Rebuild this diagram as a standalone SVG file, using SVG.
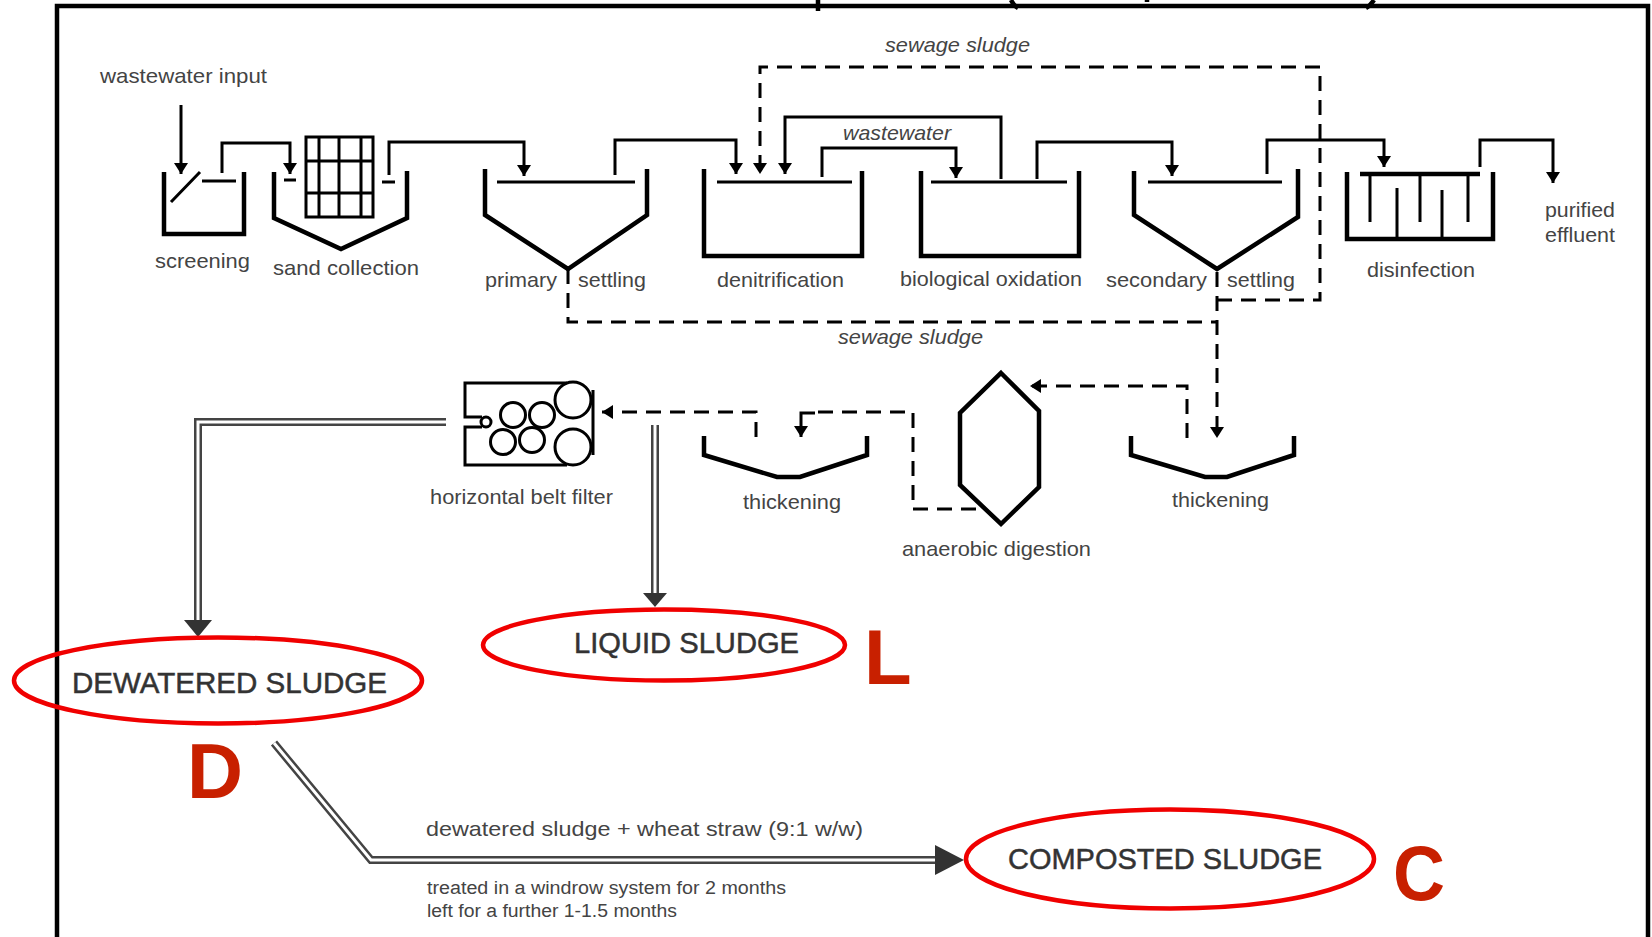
<svg xmlns="http://www.w3.org/2000/svg" width="1652" height="937" viewBox="0 0 1652 937">
<style>
text{font-family:"Liberation Sans",Arial,sans-serif;fill:#444;font-size:21px}
.it{font-style:italic}
.cap{font-size:29px;fill:#333;stroke:#333;stroke-width:.5}
.sm{font-size:18px}
.big{font-size:78px;font-weight:bold;fill:#c82000}
.tank{fill:none;stroke:#000;stroke-width:4.5;stroke-linejoin:miter}
.thin{fill:none;stroke:#000;stroke-width:3}
.c{fill:none;stroke:#000;stroke-width:3}
.d{fill:none;stroke:#000;stroke-width:3;stroke-dasharray:15 9}
.do{fill:none;stroke:#444;stroke-width:8}
.di{fill:none;stroke:#fff;stroke-width:3}
.el{fill:none;stroke:#f00000;stroke-width:4.5}
.ah{fill:#333}
</style>
<defs>
<marker id="a" markerUnits="userSpaceOnUse" markerWidth="14" markerHeight="14" refX="11" refY="7" orient="auto"><path d="M0 0L11 7L0 14Z" fill="#000"/></marker>
</defs>
<g id="frame">
<path d="M57 937V6H1648V937" fill="none" stroke="#000" stroke-width="4.5"/>
<path d="M818 0V11M1011 0Q1014 6 1018 8M1147 0V2M1374 0Q1370 6 1366 8" fill="none" stroke="#000" stroke-width="4.5"/>
</g>
<g id="connectors">
<path class="c" marker-end="url(#a)" d="M181 105V174"/>
<path class="c" marker-end="url(#a)" d="M222 173V143H290V174"/>
<path class="c" marker-end="url(#a)" d="M389 175V142H524V176"/>
<path class="c" marker-end="url(#a)" d="M615 175V140H736V174"/>
<path class="c" marker-end="url(#a)" d="M1001 179V117H785V174"/>
<path class="c" marker-end="url(#a)" d="M822 177V148H956V178"/>
<path class="c" marker-end="url(#a)" d="M1037 179V142H1172V176"/>
<path class="c" marker-end="url(#a)" d="M1267 174V140H1384V167"/>
<path class="c" marker-end="url(#a)" d="M1480 167V140H1553V183"/>
<path class="d" marker-end="url(#a)" d="M1217 300H1320V67H760V174"/>
<path class="d" d="M568 269V322H1217"/>
<path class="d" marker-end="url(#a)" d="M1217 272V438"/>
<path class="d" marker-end="url(#a)" d="M1187 438V386H1030"/>
<path class="d" d="M976 509H913V412H815"/>
<path class="c" marker-end="url(#a)" d="M815 413H801V437"/>
<path class="d" marker-end="url(#a)" d="M756 437V412H602"/>
<path class="do" d="M446 422H198V620"/><path class="di" d="M446 422H198V620"/>
<path class="ah" d="M184 620H212L198 637Z"/>
<path class="do" d="M655 425V593"/><path class="di" d="M655 425V593"/>
<path class="ah" d="M643 593H667L655 607Z"/>
<path class="do" d="M274 743L371 860H936"/><path class="di" d="M274 743L371 860H936"/>
<path class="ah" d="M935 845L964 860L935 875Z"/>
</g>
<g id="input"><text x="100" y="83" textLength="167" lengthAdjust="spacingAndGlyphs">wastewater input</text></g>
<g id="screening">
<path class="tank" d="M164 172V234H244V172"/>
<path class="thin" d="M200 172L171 202M202 181H236"/>
<text x="155" y="268" textLength="95" lengthAdjust="spacingAndGlyphs">screening</text>
</g>
<g id="sand-collection">
<path class="tank" d="M274 172V218L341 249L407 218V171"/>
<path class="thin" d="M284 180H296M382 182H395"/>
<path class="thin" d="M306 137H373V217H306ZM319 137V217M339 137V217M361 137V217M306 161H373M306 193H373"/>
<text x="273" y="275" textLength="146" lengthAdjust="spacingAndGlyphs">sand collection</text>
</g>
<g id="primary-settling">
<path class="tank" d="M485 169V215L568 269L647 215V169"/>
<path class="thin" d="M497 182H635"/>
<text x="485" y="287" textLength="72" lengthAdjust="spacingAndGlyphs">primary</text>
<text x="578" y="287" textLength="68" lengthAdjust="spacingAndGlyphs">settling</text>
</g>
<g id="denitrification">
<path class="tank" d="M704 169V256H862V171"/>
<path class="thin" d="M717 182H852"/>
<text x="717" y="287" textLength="127" lengthAdjust="spacingAndGlyphs">denitrification</text>
</g>
<g id="biological-oxidation">
<path class="tank" d="M921 171V256H1079V171"/>
<path class="thin" d="M931 182H1067"/>
<text x="900" y="286" textLength="182" lengthAdjust="spacingAndGlyphs">biological oxidation</text>
</g>
<g id="secondary-settling">
<path class="tank" d="M1134 171V215L1217 269L1298 217V169"/>
<path class="thin" d="M1148 182H1282"/>
<text x="1106" y="287" textLength="101" lengthAdjust="spacingAndGlyphs">secondary</text>
<text x="1227" y="287" textLength="68" lengthAdjust="spacingAndGlyphs">settling</text>
</g>
<g id="disinfection">
<path class="tank" d="M1347 172V239H1493V172"/>
<path class="tank" d="M1360 174H1480"/>
<path class="thin" d="M1370 174V222M1420 174V222M1468 174V222M1397 188V239M1442 190V239"/>
<text x="1367" y="277" textLength="108" lengthAdjust="spacingAndGlyphs">disinfection</text>
</g>
<g id="effluent">
<text x="1545" y="217" textLength="70" lengthAdjust="spacingAndGlyphs">purified</text>
<text x="1545" y="242" textLength="70" lengthAdjust="spacingAndGlyphs">effluent</text>
</g>
<g id="labels">
<text class="it" x="885" y="52" textLength="145" lengthAdjust="spacingAndGlyphs">sewage sludge</text>
<text class="it" x="843" y="140" textLength="108" lengthAdjust="spacingAndGlyphs">wastewater</text>
<text class="it" x="838" y="344" textLength="145" lengthAdjust="spacingAndGlyphs">sewage sludge</text>
<text x="426" y="836" textLength="437" lengthAdjust="spacingAndGlyphs">dewatered sludge + wheat straw (9:1 w/w)</text>
<text class="sm" x="427" y="894" textLength="359" lengthAdjust="spacingAndGlyphs">treated in a windrow system for 2 months</text>
<text class="sm" x="427" y="917" textLength="250" lengthAdjust="spacingAndGlyphs">left for a further 1-1.5 months</text>
</g>
<g id="belt-filter">
<path class="thin" d="M567 383H465V417H482M482 427H465V465H567M593 390V455"/>
<circle class="thin" cx="486" cy="422" r="5"/>
<circle class="thin" cx="513" cy="415" r="12.5"/>
<circle class="thin" cx="542" cy="415" r="12.5"/>
<circle class="thin" cx="503" cy="442" r="12.5"/>
<circle class="thin" cx="532" cy="440" r="12.5"/>
<circle class="thin" cx="573" cy="400" r="18"/>
<circle class="thin" cx="573" cy="447" r="18"/>
<text x="430" y="504" textLength="183" lengthAdjust="spacingAndGlyphs">horizontal belt filter</text>
</g>
<g id="thickening-1">
<path class="tank" d="M704 436V455L777 477H800L867 455V436"/>
<text x="743" y="509" textLength="98" lengthAdjust="spacingAndGlyphs">thickening</text>
</g>
<g id="anaerobic-digestion">
<path class="tank" d="M1001 373L1039 411V487L1001 524L960 485V413Z"/>
<text x="902" y="556" textLength="189" lengthAdjust="spacingAndGlyphs">anaerobic digestion</text>
</g>
<g id="thickening-2">
<path class="tank" d="M1131 436V455L1205 477H1227L1294 455V436"/>
<text x="1172" y="507" textLength="97" lengthAdjust="spacingAndGlyphs">thickening</text>
</g>
<g id="dewatered-sludge">
<ellipse class="el" cx="218" cy="680.5" rx="204" ry="43"/>
<text class="cap" x="72" y="693" textLength="315" lengthAdjust="spacingAndGlyphs">DEWATERED SLUDGE</text>
<text class="big" x="187" y="798" textLength="56" lengthAdjust="spacingAndGlyphs">D</text>
</g>
<g id="liquid-sludge">
<ellipse class="el" cx="664" cy="645" rx="181" ry="35.5"/>
<text class="cap" x="574" y="653" textLength="225" lengthAdjust="spacingAndGlyphs">LIQUID SLUDGE</text>
<text class="big" x="864" y="684">L</text>
</g>
<g id="composted-sludge">
<ellipse class="el" cx="1170" cy="859" rx="204" ry="49.5"/>
<text class="cap" x="1008" y="869" textLength="314" lengthAdjust="spacingAndGlyphs">COMPOSTED SLUDGE</text>
<text class="big" x="1393" y="900" textLength="52" lengthAdjust="spacingAndGlyphs">C</text>
</g>
</svg>
